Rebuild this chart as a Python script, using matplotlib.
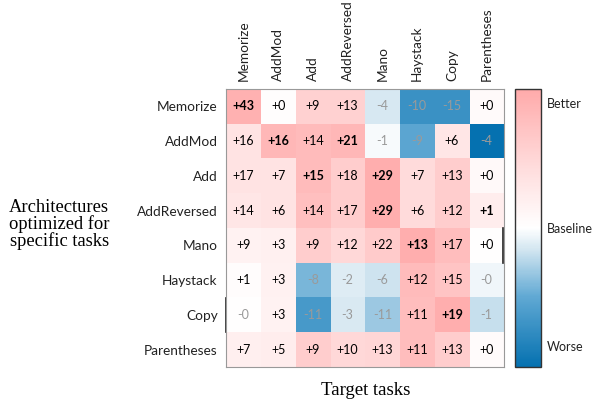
import numpy as np
import matplotlib.pyplot as plt
from matplotlib.colors import LinearSegmentedColormap

tasks = ["Memorize", "AddMod", "Add", "AddReversed", "Mano", "Haystack", "Copy", "Parentheses"]

# relative improvement (%) of each task-optimized architecture on each target task
gains = np.array([
    [43, 0.2, 9, 13, -4, -10, -15, 0.2],
    [16, 16, 14, 21, -1, -9, 6, -4],
    [17, 7, 15, 18, 29, 7, 13, 0.2],
    [14, 6, 14, 17, 29, 6, 12, 1],
    [9, 3, 9, 12, 22, 13, 17, 0.2],
    [1, 3, -8, -2, -6, 12, 15, -0.2],
    [-0.2, 3, -11, -3, -11, 11, 19, -1],
    [7, 5, 9, 10, 13, 11, 13, 0.2],
])

# normalized score used for the cell shading (-1 worse ... +1 better)
shade = np.array([
    [0.92, 0.02, 0.55, 0.55, -0.14, -0.70, -0.70, 0.05],
    [0.35, 0.85, 0.80, 0.85, -0.03, -0.52, 0.30, -1.00],
    [0.35, 0.35, 0.80, 0.60, 0.95, 0.45, 0.60, 0.07],
    [0.30, 0.35, 0.75, 0.60, 0.95, 0.45, 0.60, 0.22],
    [0.15, 0.18, 0.60, 0.47, 0.62, 0.95, 0.78, 0.00],
    [0.03, 0.17, -0.42, -0.11, -0.17, 0.80, 0.70, -0.05],
    [0.00, 0.15, -0.63, -0.13, -0.32, 0.78, 0.95, -0.19],
    [0.20, 0.22, 0.60, 0.47, 0.50, 0.78, 0.60, 0.04],
])

cmap = LinearSegmentedColormap.from_list(
    "worse_better",
    [(0.0, "#0571b0"), (0.25, "#5fa8d3"), (0.42, "#d1e5f0"), (0.5, "#ffffff"),
     (0.72, "#ffdcdc"), (1.0, "#ffaaaa")])

fig = plt.figure(figsize=(5.92, 3.99), dpi=100)
ax = fig.add_axes([0.3818, 0.0802, 0.4696, 0.6967])
cax = fig.add_axes([0.870, 0.0802, 0.0439, 0.6967])

im = ax.imshow(shade, cmap=cmap, vmin=-1, vmax=1, aspect="auto")

col_best = gains.max(axis=0)
for i in range(len(tasks)):
    for j in range(len(tasks)):
        v = gains[i, j]
        txt = f"{v:+.0f}"
        if v < 0:
            ax.text(j, i, txt, ha="center", va="center", fontsize=9,
                    color="#9a9a9a", family="Lato")
        else:
            ax.text(j, i, txt, ha="center", va="center", fontsize=9,
                    color="black", family="Lato",
                    fontweight="bold" if v == col_best[j] else "normal")

# short dark edge segments along the frame
ax.plot([-0.5, -0.5], [5.5, 6.5], color="#222222", lw=1.2, clip_on=False)
ax.plot([7.46, 7.46], [3.5, 4.5], color="#222222", lw=1.2, clip_on=False)

ax.xaxis.tick_top()
ax.set_xticks(range(len(tasks)))
ax.set_xticklabels(tasks, rotation=90, fontsize=9.8, family="Lato", color="#222222")
ax.set_yticks(range(len(tasks)))
ax.set_yticklabels(tasks, fontsize=9.8, family="Lato", color="#222222")
ax.tick_params(length=0, pad=6)
for s in ax.spines.values():
    s.set_color("#999999")
    s.set_linewidth(0.8)

cb = fig.colorbar(im, cax=cax)
cb.set_ticks([0.9, 0, -0.85])
cb.set_ticklabels(["Better", "Baseline", "Worse"])
cb.ax.tick_params(length=0, labelsize=9, pad=4)
for lab in cb.ax.get_yticklabels():
    lab.set_family("Lato")
    lab.set_color("#222222")
cb.outline.set_edgecolor("#333333")
cb.outline.set_linewidth(1.0)

fig.text(0.1, 0.437, "Architectures\noptimized for\nspecific tasks", ha="center",
         va="center", fontsize=13.3, family="Liberation Serif", linespacing=0.95)
fig.text(0.617, 0.022, "Target tasks", ha="center", va="center",
         fontsize=13.5, family="Liberation Serif")

fig.savefig("out.png", dpi=100)
